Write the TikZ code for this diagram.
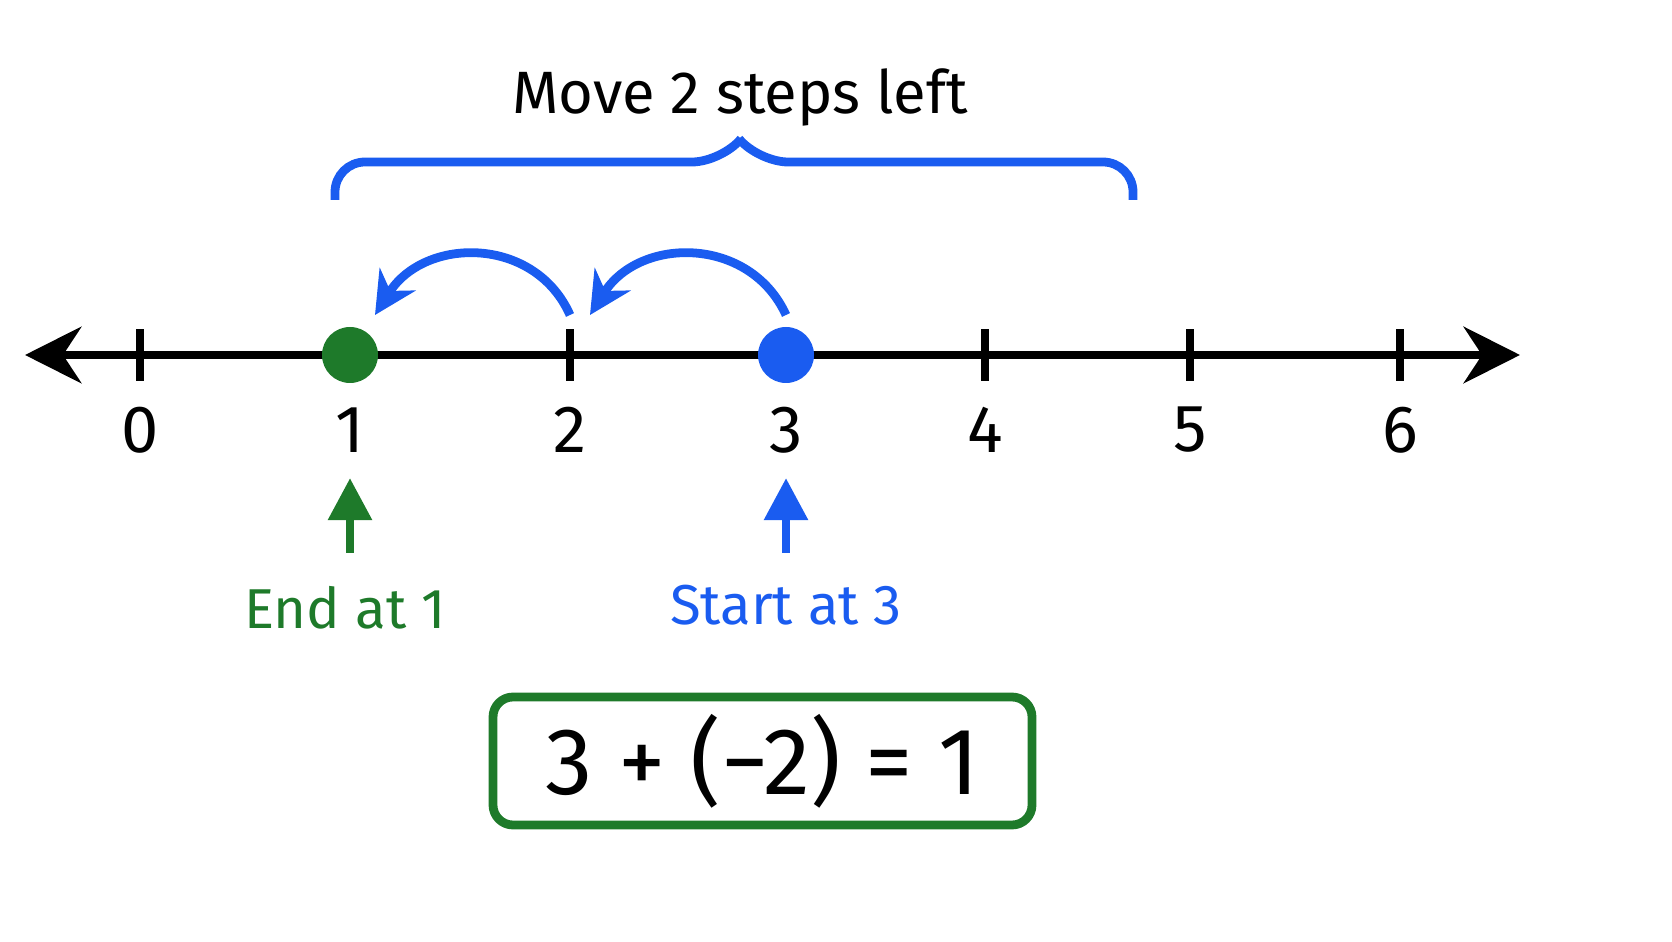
\documentclass[tikz,border=0pt]{standalone}
\usepackage{fontspec}
\setmainfont{Fira Sans}
\usetikzlibrary{arrows.meta}
\definecolor{stepblue}{HTML}{1A5CF0}
\definecolor{endgreen}{HTML}{1E7A2A}
\begin{document}
\begin{tikzpicture}[
    tick/.style={line width=2.2pt},
    numlabel/.style={font=\fontsize{19}{22}\selectfont},
    hop/.style={-{Stealth[length=12pt,width=12pt]}, stepblue, line width=2.5pt},
    pointer/.style={-{Triangle[length=12pt,width=12pt]}, line width=2.5pt}
]
    \useasboundingbox (0,0) rectangle (16.72,9.41);
    \begin{scope}[overlay]
    % number line
    \coordinate (lft) at (0.25,5.86);
    \coordinate (rgt) at (15.2,5.86);
    \draw[{Stealth[length=16pt,width=16pt]}-{Stealth[length=16pt,width=16pt]}, line width=2.5pt] (lft) -- (rgt);
    \foreach \n/\x in {0/1.40,1/3.50,2/5.70,3/7.86,4/9.85,5/11.90,6/14.00} {
        \coordinate (t\n) at (\x,5.86);
        \draw[tick] (\x,5.60) -- (\x,6.12);
        \node[numlabel] (n\n) at (\x,5.11) {\n};
    }
    % dots
    \node[circle, fill=endgreen, minimum size=0.56cm, inner sep=0] (enddot) at (t1) {};
    \node[circle, fill=stepblue, minimum size=0.56cm, inner sep=0] (startdot) at (t3) {};
    % hops
    \coordinate (h3) at (7.86,6.26);
    \coordinate (h2) at (5.70,6.26);
    \coordinate (a2) at (5.90,6.26);
    \coordinate (a1) at (3.75,6.26);
    \draw[hop] (h3) .. controls (7.5,7.05) and (6.4,7.05) .. (a2);
    \draw[hop] (h2) .. controls (5.35,7.05) and (4.25,7.05) .. (a1);
    % brace
    \draw[stepblue, line width=2.5pt, rounded corners=0.3cm]
        (3.35,7.41) -- (3.35,7.79) -- (7.22,7.79) -- (7.40,8.01);
    \draw[stepblue, line width=2.5pt, rounded corners=0.3cm]
        (11.33,7.41) -- (11.33,7.79) -- (7.58,7.79) -- (7.40,8.01);
    \node[font=\fontsize{17}{20}\selectfont] (move) at (7.40,8.44) {Move 2 steps left};
    % pointers
    \coordinate (pe) at (3.50,3.88);
    \coordinate (ps) at (7.86,3.88);
    \draw[pointer, endgreen] (pe) -- (3.50,4.63);
    \draw[pointer, stepblue] (ps) -- (7.86,4.63);
    \node[endgreen, font=\fontsize{16}{19}\selectfont] (endlbl) at (3.45,3.33) {End at 1};
    \node[stepblue, font=\fontsize{16}{19}\selectfont] (startlbl) at (7.86,3.36) {Start at 3};
    % equation
    \node[draw=endgreen, line width=2.5pt, rounded corners=0.2cm, minimum width=5.39cm, minimum height=1.28cm,
          font=\fontsize{27}{30}\selectfont] (eqn) at (7.625,1.80) {3 + (−2) = 1};
    \end{scope}
\end{tikzpicture}
\end{document}
